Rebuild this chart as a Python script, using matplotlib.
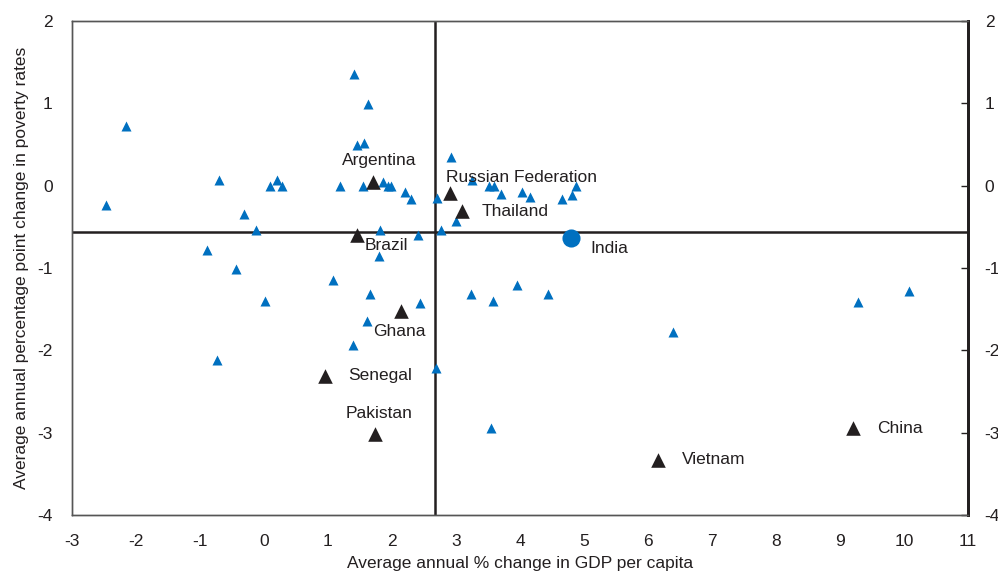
import matplotlib
matplotlib.use("Agg")
import matplotlib.pyplot as plt

plt.rcParams['font.family'] = ['Liberation Sans', 'DejaVu Sans']
plt.rcParams['axes.unicode_minus'] = False

# other countries (growth, poverty change)
other_x = [-2.47, -2.16, -0.70, -0.89, -0.73, -0.31, -0.44, -0.125, 0.02, 0.09,
           0.21, 0.28, 1.08, 1.19, 1.41, 1.46, 1.56, 1.63, 1.39, 1.54,
           1.61, 1.66, 1.81, 1.80, 1.86, 1.94, 1.99, 2.20, 2.30, 2.41,
           2.43, 2.69, 2.71, 2.77, 2.92, 3.00, 3.25, 3.24, 3.52, 3.60,
           3.58, 3.54, 3.71, 3.95, 4.03, 4.16, 4.43, 4.66, 4.82, 4.88,
           6.39, 9.28, 10.08]
other_y = [-0.23, 0.72, 0.07, -0.78, -2.12, -0.34, -1.01, -0.54, -1.40, -0.01,
           0.07, -0.01, -1.15, -0.01, 1.36, 0.49, 0.52, 0.99, -1.93, -0.01,
           -1.64, -1.31, -0.54, -0.86, 0.05, -0.01, -0.01, -0.08, -0.16, -0.60,
           -1.43, -2.21, -0.15, -0.54, 0.35, -0.43, 0.07, -1.32, -0.01, -0.01,
           -1.40, -2.94, -0.10, -1.21, -0.08, -0.14, -1.32, -0.16, -0.11, -0.01,
           -1.78, -1.41, -1.28]

# highlighted countries
named = ['Argentina', 'Russian Federation', 'Thailand', 'Brazil', 'Ghana',
         'Senegal', 'Pakistan', 'Vietnam', 'China']
named_x = [1.71, 2.90, 3.10, 1.46, 2.14, 0.96, 1.74, 6.15, 9.20]
named_y = [0.05, -0.09, -0.31, -0.60, -1.52, -2.31, -3.02, -3.33, -2.94]

india_x, india_y = 4.80, -0.64

# averages across all countries
mean_growth = 2.67
mean_change = -0.56

blue = '#0070C0'
dark = '#231F20'

fig = plt.figure(figsize=(9.98, 5.72), dpi=100)
ax = fig.add_axes([72/998, 1-515/572, 896/998, 494/572])

ax.axvline(mean_growth, color=dark, lw=1.8, zorder=1)
ax.axhline(mean_change, color=dark, lw=1.8, zorder=1)

ax.scatter(other_x, other_y, marker='^', s=52, color=blue, lw=0, zorder=3)
ax.scatter(named_x, named_y, marker='^', s=110, color=dark, lw=0, zorder=4)
ax.scatter([india_x], [india_y], marker='o', s=170, color=blue, lw=0, zorder=4)

# label offsets in data units
offsets = {
    'Argentina': (0.09, 0.26, 'center'),
    'Russian Federation': (-0.05, 0.19, 'left'),
    'Thailand': (0.30, 0.0, 'left'),
    'Brazil': (0.12, -0.13, 'left'),
    'Ghana': (-0.43, -0.25, 'left'),
    'Senegal': (0.36, 0.0, 'left'),
    'Pakistan': (0.06, 0.25, 'center'),
    'Vietnam': (0.38, 0.0, 'left'),
    'China': (0.38, -0.01, 'left'),
}
for name, x, y in zip(named, named_x, named_y):
    dx, dy, ha = offsets[name]
    ax.text(x + dx, y + dy, name, ha=ha, va='center', fontsize=12.5,
            color=dark, zorder=5)
ax.text(india_x + 0.30, india_y - 0.12, 'India', ha='left', va='center',
        fontsize=12.5, color=dark, zorder=5)

ax.set_xlim(-3, 11)
ax.set_ylim(-4, 2)
ax.set_xticks(range(-3, 12))
ax.set_yticks(range(-4, 3))
ax.tick_params(axis='both', length=0, labelsize=12.5, colors=dark)
ax.tick_params(axis='x', pad=14)
ax.tick_params(axis='y', pad=14)

ax2 = ax.twinx()
ax2.set_ylim(-4, 2)
ax2.set_yticks(range(-4, 3))
ax2.tick_params(axis='y', direction='in', length=5, width=1, pad=12,
                labelsize=12.5, colors=dark)

for a in (ax, ax2):
    for side in ('left', 'top', 'bottom'):
        a.spines[side].set_color('#555555')
        a.spines[side].set_linewidth(1)
    a.spines['right'].set_color(dark)
    a.spines['right'].set_linewidth(2)

ax.set_xlabel('Average annual % change in GDP per capita', fontsize=12.5,
              color=dark, labelpad=5)
ax.set_ylabel('Average annual percentage point change in poverty rates',
              fontsize=12.5, color=dark, labelpad=6)

fig.savefig('out.png', dpi=100)
